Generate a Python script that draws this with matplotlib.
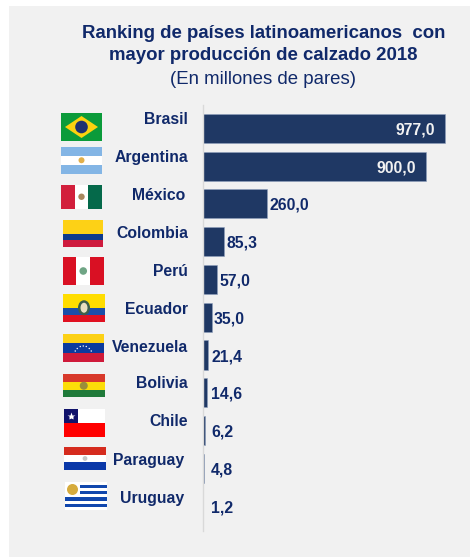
import matplotlib
matplotlib.use("Agg")
import matplotlib.pyplot as plt
from matplotlib.patches import Rectangle, Polygon, Circle, Ellipse

countries = ["Brasil", "Argentina", "México", "Colombia", "Perú", "Ecuador",
             "Venezuela", "Bolivia", "Chile", "Paraguay", "Uruguay"]
values = [977.0, 900.0, 260.0, 85.3, 57.0, 35.0, 21.4, 14.6, 6.2, 4.8, 1.2]
value_labels = ["977,0", "900,0", "260,0", "85,3", "57,0", "35,0",
                "21,4", "14,6", "6,2", "4,8", "1,2"]
title_lines = ["Ranking de países latinoamericanos  con",
               "mayor producción de calzado 2018"]
subtitle = "(En millones de pares)"

# flag boxes in pixels: left, top, right, bottom
flag_boxes = [(61, 113, 102, 141), (61, 147, 102, 173.5), (61, 184.5, 102, 209),
              (62.5, 220, 103, 247), (62.5, 257, 104, 285), (63, 293.5, 105, 322),
              (62.5, 334, 104, 362), (63, 374, 104.5, 397.5), (64, 409, 105, 437),
              (64, 447, 106, 470), (65, 481.5, 107, 510)]
# country label placement in pixels: right edge, vertical centre
label_pos = [(188, 119), (188, 157.5), (185, 195.5), (188, 234), (188, 271), (188, 309),
             (188, 347), (188, 384), (188, 422), (184, 460), (184, 498)]

NAVY = "#1f3864"
TEXT = "#10296a"
BG = "#f1f1f1"
W, H = 470, 557
PX_PER_UNIT = 0.2475

plt.rcParams["font.family"] = ["Liberation Sans", "DejaVu Sans"]
fig = plt.figure(figsize=(W / 100, H / 100), dpi=100, facecolor="#ffffff")
fig.add_artist(Rectangle((9 / W, 0), 1 - 9 / W, 1 - 6 / H, transform=fig.transFigure,
                         fc=BG, ec="none", zorder=-5))


def px_axes(left, top, right, bottom):
    return fig.add_axes([left / W, 1 - bottom / H, (right - left) / W, (bottom - top) / H])


# bar panel: one bar per country, first on top
ax = px_axes(203, 105, 470, 531)
ax.set_xlim(0, 267 / PX_PER_UNIT)
ax.set_ylim(10.66, -0.62)
ax.patch.set_alpha(0)
positions = list(range(len(values)))
bars = ax.barh(positions, values, height=0.77, color=NAVY, edgecolor="#8fa0bd", linewidth=0.4)
ax.set_xticks([])
ax.set_yticks([])
for side in ("top", "right", "bottom"):
    ax.spines[side].set_visible(False)
ax.spines["left"].set_color("#d9d9d9")
ax.spines["left"].set_linewidth(1.0)

# values sit inside the long bars, otherwise just past the bar end in a common column
for i, (v, lab) in enumerate(zip(values, value_labels)):
    if v > 500:
        ax.annotate(lab, (v, i), xytext=(-7, 0), textcoords="offset points", ha="right",
                    va="center_baseline", color="#f2f2f2", fontsize=11.3, fontweight="bold")
    else:
        x = max(v + 2 / PX_PER_UNIT, 8 / PX_PER_UNIT)
        ax.text(x, i, lab, ha="left", va="center_baseline", color=TEXT,
                fontsize=11.3, fontweight="bold")

# overlay in pixel coordinates for titles, country names and flags
ov = fig.add_axes([0, 0, 1, 1])
ov.set_xlim(0, W)
ov.set_ylim(H, 0)
ov.axis("off")
ov.patch.set_alpha(0)

ov.text(263.5, 33.5, title_lines[0], ha="center", va="center", color=TEXT, fontsize=13.4, fontweight="bold")
ov.text(263, 56, title_lines[1], ha="center", va="center", color=TEXT, fontsize=13.4, fontweight="bold")
ov.text(263, 79.5, subtitle, ha="center", va="center", color=TEXT, fontsize=13.4)

for name, (x, y) in zip(countries, label_pos):
    ov.text(x, y, name, ha="right", va="center", color=TEXT, fontsize=11.3, fontweight="bold")


def stripes_h(box, colors, weights=None):
    l, t, r, b = box
    weights = weights or [1] * len(colors)
    total = sum(weights)
    y = t
    for c, w in zip(colors, weights):
        h = (b - t) * w / total
        ov.add_patch(Rectangle((l, y), r - l, h, fc=c, ec="none"))
        y += h


def stripes_v(box, colors):
    l, t, r, b = box
    w = (r - l) / len(colors)
    for i, c in enumerate(colors):
        ov.add_patch(Rectangle((l + i * w, t), w, b - t, fc=c, ec="none"))


def centre(box):
    return (box[0] + box[2]) / 2, (box[1] + box[3]) / 2


def emblem(box, color, r=2.6):
    cx, cy = centre(box)
    ov.add_patch(Circle((cx, cy), r, fc=color, ec="none"))


# Brazil
b = flag_boxes[0]
stripes_h(b, ["#0b9b3a"])
cx, cy = centre(b)
ov.add_patch(Polygon([(b[0] + 4, cy), (cx, b[1] + 3), (b[2] - 4, cy), (cx, b[3] - 3)], fc="#fcd20f", ec="none"))
ov.add_patch(Circle((cx, cy), 6.3, fc="#1f3170", ec="none"))
# Argentina
b = flag_boxes[1]
stripes_h(b, ["#83b5e5", "#ffffff", "#83b5e5"])
emblem(b, "#e2b04a", 3)
# Mexico
b = flag_boxes[2]
stripes_v(b, ["#d21f3c", "#ffffff", "#05694a"])
emblem(b, "#a8875e", 3.2)
# Colombia
stripes_h(flag_boxes[3], ["#fdd116", "#0e3a8c", "#ce1b3e"], [2, 1, 1])
# Peru
b = flag_boxes[4]
stripes_v(b, ["#d91023", "#ffffff", "#d91023"])
emblem(b, "#6fa585", 3.8)
# Ecuador
b = flag_boxes[5]
stripes_h(b, ["#ffdd00", "#1c4ea8", "#e01020"], [2, 1, 1])
ov.add_patch(Ellipse(centre(b), 12, 15, fc="#3d5f4a", ec="none"))
ov.add_patch(Ellipse(centre(b), 7, 10, fc="#e9dfc0", ec="none"))
# Venezuela
b = flag_boxes[6]
stripes_h(b, ["#fcd116", "#0b3a9e", "#cf1a3a"])
for dx, dy in [(-8, 3), (-6, 0.5), (-3, -1.5), (0, -2), (3, -1.5), (6, 0.5), (8, 3)]:
    ov.add_patch(Circle((centre(b)[0] + dx, centre(b)[1] + dy), 0.7, fc="#ffffff", ec="none"))
# Bolivia
b = flag_boxes[7]
stripes_h(b, ["#d8392b", "#fcdd09", "#1f7a3a"])
emblem(b, "#9a8f3a", 4)
# Chile
b = flag_boxes[8]
stripes_h(b, ["#ffffff", "#ff0000"])
ov.add_patch(Rectangle((b[0], b[1]), 13.5, (b[3] - b[1]) / 2, fc="#10126b", ec="none"))
ov.plot([b[0] + 6.7], [b[1] + 6.8], marker="*", ms=6, color="#ffffff", mec="none")
# Paraguay
b = flag_boxes[9]
stripes_h(b, ["#d52b1e", "#ffffff", "#0a38a8"])
emblem(b, "#c7c7c7", 2.4)
# Uruguay: nine stripes, white canton with sun
b = flag_boxes[10]
stripes_h(b, ["#ffffff", "#1147ad"] * 4 + ["#ffffff"])
ov.add_patch(Rectangle((b[0], b[1]), 15, (b[3] - b[1]) * 5 / 9, fc="#ffffff", ec="none"))
ov.add_patch(Circle((b[0] + 7.5, b[1] + 8), 5.5, fc="#d6ab3c", ec="none"))

fig.savefig("out.png", dpi=100, facecolor="#ffffff")
